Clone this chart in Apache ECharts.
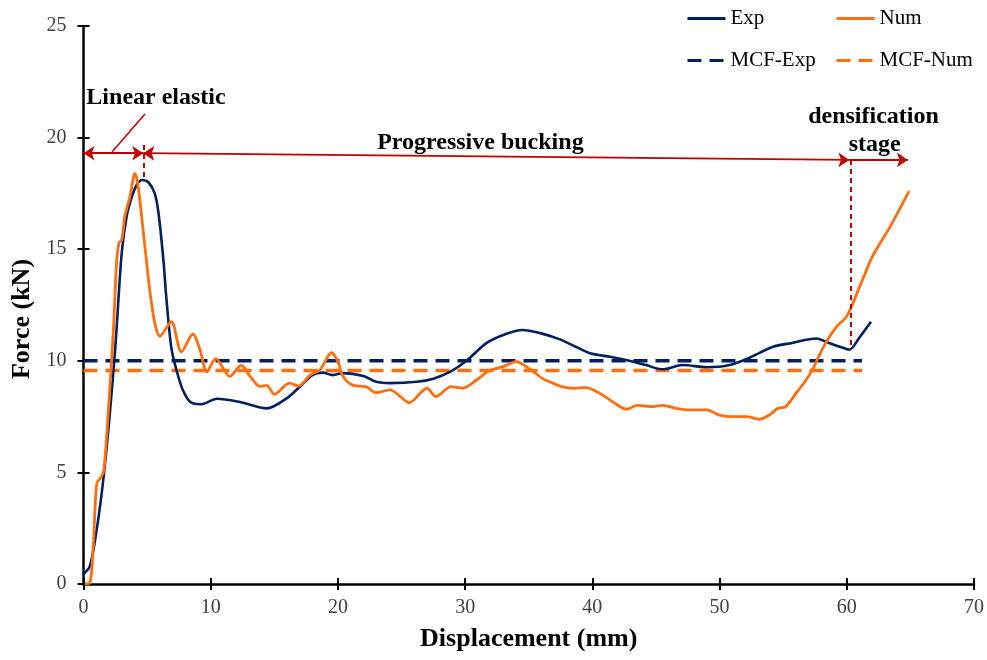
<!DOCTYPE html>
<html>
<head>
<meta charset="utf-8">
<script src="https://cdn.jsdelivr.net/npm/echarts@6/dist/echarts.min.js"></script>
<style>
  html, body { margin: 0; padding: 0; background: #fff; }
  #chart { width: 987px; height: 660px; }
</style>
</head>
<body>
<div id="chart"></div>
<script>
// Exp curve: displacement (mm), force (kN)
const expDisp = [0, 0.5, 1.0, 1.5, 2.0, 2.5, 3.0, 3.4, 3.8, 4.2, 4.6, 5.1, 5.6, 5.9, 6.3, 6.5, 6.9, 7.3, 7.8, 8.4,
  9.2, 10.5, 12.3, 14.4, 16.0, 17.0, 18.0, 18.8, 19.6, 20.4, 22.0, 23.0, 24.1, 26.2, 27.5, 28.8, 30.1, 31.7, 33.2, 34.5,
  35.9, 37.4, 38.7, 39.8, 41.4, 42.9, 44.2, 45.5, 47.1, 49.0, 50.8, 52.4, 54.2, 55.7, 57.6, 58.6, 59.5, 60.2, 61.0, 61.9];
const expForce = [0.45, 0.8, 2.3, 4.4, 7.2, 10.6, 14.8, 16.5, 17.35, 17.9, 18.1, 18.0, 17.5, 16.6, 14.4, 12.9, 10.6, 9.6, 8.7, 8.15,
  8.05, 8.3, 8.15, 7.87, 8.33, 8.84, 9.36, 9.47, 9.36, 9.45, 9.32, 9.06, 9.0, 9.06, 9.2, 9.5, 10.0, 10.8, 11.2, 11.38,
  11.24, 10.97, 10.63, 10.34, 10.18, 10.0, 9.81, 9.62, 9.81, 9.71, 9.81, 10.15, 10.63, 10.8, 11.0, 10.8, 10.62, 10.5, 11.05, 11.75];

// Num curve
const numDisp = [0.1, 0.5, 0.77, 1.04, 1.4, 1.6, 1.95, 2.35, 2.6, 2.8, 3.0, 3.26, 3.65, 4.05, 4.3, 4.83, 5.2, 5.6, 6.0, 6.9,
  7.7, 8.6, 9.15, 9.7, 10.4, 11.5, 12.4, 13.1, 13.9, 14.4, 15.0, 16.2, 16.9, 17.8, 18.6, 19.5, 20.0, 20.4, 21.2, 22.2,
  23.0, 24.1, 24.9, 25.6, 27.0, 27.7, 28.9, 29.8, 30.9, 31.9, 33.0, 34.0, 35.1, 36.1, 36.9, 37.6, 38.5, 39.5, 40.6, 41.4,
  42.7, 43.5, 44.8, 45.5, 46.6, 47.6, 49.0, 50.0, 51.0, 52.1, 53.1, 53.9, 54.6, 55.2, 56.0, 56.8, 57.3, 57.8, 58.4, 59.2,
  60.0, 61.0, 62.0, 63.4, 64.9];
const numForce = [0, 0.05, 1.7, 4.5, 4.8, 5.1, 7.7, 11.4, 14.4, 15.3, 15.4, 16.5, 17.35, 18.4, 17.8, 15.1, 13.2, 11.7, 11.1, 11.75,
  10.4, 11.2, 10.5, 9.5, 10.1, 9.3, 9.8, 9.3, 8.85, 8.9, 8.5, 9.0, 8.87, 9.36, 9.6, 10.36, 9.96, 9.3, 8.9, 8.84,
  8.57, 8.7, 8.4, 8.12, 8.77, 8.4, 8.84, 8.77, 9.14, 9.56, 9.74, 9.96, 9.62, 9.2, 9.0, 8.84, 8.77, 8.8, 8.54, 8.24,
  7.83, 8.0, 7.95, 8.0, 7.87, 7.8, 7.8, 7.57, 7.5, 7.5, 7.38, 7.57, 7.87, 7.95, 8.54, 9.14, 9.59, 10.2, 10.86, 11.53,
  12.0, 13.3, 14.66, 16.0, 17.6];

// mean crushing force levels and their extent
const mcfExp = 10;
const mcfNum = 9.56;
const mcfRange = [0, 61.2];

const xTicks = { min: 0, max: 70, interval: 10 };
const yTicks = { min: 0, max: 25, interval: 5 };

// stage annotations (data units)
const stageArrows = [
  [[0, 19.3], [4.7, 19.3], 'arrow'],
  [[4.7, 19.3], [60.2, 19.0], 'arrow'],
  [[60.2, 19.0], [64.8, 19.0], 'none']
];
const stageDividers = [
  [[4.7, 19.67], [4.7, 18.1]],
  [[60.3, 19.0], [60.3, 10.5]]
];
const leader = [[4.83, 21.06], [2.24, 19.35]];
const stageLabels = [
  [5.7, 21.8, 'Linear elastic'],
  [31.2, 19.76, 'Progressive bucking'],
  [62.1, 20.93, 'densification'],
  [62.2, 19.67, 'stage']
];

const navy = '#002060';
const orange = '#FF6F0F';
const red = '#C00000';
const serif = '"Times New Roman", "Liberation Serif", serif';

const zip = (a, b) => a.map((v, i) => [v, b[i]]);

const chart = echarts.init(document.getElementById('chart'), null, { renderer: 'canvas' });

const arrowLines = stageArrows.map(a => [
  { coord: a[0], symbol: a[2] },
  { coord: a[1], symbol: 'arrow' }
]);
const dividerLines = stageDividers.map(d => [
  { coord: d[0], symbol: 'none', lineStyle: { type: [5, 4], width: 2 } },
  { coord: d[1], symbol: 'none' }
]);
const leaderLine = [[
  { coord: leader[0], symbol: 'none', lineStyle: { width: 1.5 } },
  { coord: leader[1], symbol: 'none' }
]];

function legendAt(name, left, top, dashed) {
  return {
    data: [name], left: left, top: top, padding: 0,
    itemWidth: 38, itemHeight: 14, itemGap: 0,
    selectedMode: false,
    itemStyle: { opacity: 0 },
    lineStyle: { width: 3, type: dashed ? [14, 8] : 'solid' },
    textStyle: { fontFamily: serif, fontSize: 21, color: '#000' }
  };
}

chart.setOption({
  animation: false,
  backgroundColor: '#fff',
  grid: { left: 83.5, right: 12.4, top: 26, bottom: 76 },
  legend: [
    legendAt('Exp', 686, 8, false),
    legendAt('Num', 835, 8, false),
    legendAt('MCF-Exp', 686, 50, true),
    legendAt('MCF-Num', 835, 50, true)
  ],
  xAxis: [{
    type: 'value', min: xTicks.min, max: xTicks.max, interval: xTicks.interval,
    name: 'Displacement (mm)', nameLocation: 'middle', nameGap: 42,
    nameTextStyle: { fontFamily: serif, fontSize: 26, fontWeight: 'bold', color: '#000' },
    axisLine: { show: true, lineStyle: { color: '#000', width: 2.5 } },
    axisTick: { show: true, length: 6, lineStyle: { color: '#000', width: 2 } },
    axisLabel: { fontFamily: serif, fontSize: 20, color: '#404040', margin: 14 },
    splitLine: { show: false }
  }, {
    type: 'value', position: 'bottom', min: xTicks.min, max: xTicks.max, interval: xTicks.interval,
    axisLine: { show: false },
    axisTick: { show: true, inside: true, length: 6, lineStyle: { color: '#000', width: 2 } },
    axisLabel: { show: false }, splitLine: { show: false }
  }],
  yAxis: [{
    type: 'value', min: yTicks.min, max: yTicks.max, interval: yTicks.interval,
    name: 'Force (kN)', nameLocation: 'middle', nameGap: 46,
    nameTextStyle: { fontFamily: serif, fontSize: 26, fontWeight: 'bold', color: '#000', padding: [0, 28, 0, 0] },
    axisLine: { show: true, lineStyle: { color: '#000', width: 2.5 } },
    axisTick: { show: true, length: 6, lineStyle: { color: '#000', width: 2 } },
    axisLabel: { fontFamily: serif, fontSize: 20, color: '#404040', margin: 17 },
    splitLine: { show: false }
  }, {
    type: 'value', position: 'left', min: yTicks.min, max: yTicks.max, interval: yTicks.interval,
    axisLine: { show: false },
    axisTick: { show: true, inside: true, length: 6, lineStyle: { color: '#000', width: 2 } },
    axisLabel: { show: false }, splitLine: { show: false }
  }],
  series: [
    {
      name: 'Exp', type: 'line', data: zip(expDisp, expForce),
      showSymbol: false, symbol: 'none', smooth: 0.3,
      lineStyle: { color: navy, width: 2.6 }, itemStyle: { color: navy }, z: 3
    },
    {
      name: 'Num', type: 'line', data: zip(numDisp, numForce),
      showSymbol: false, symbol: 'none', smooth: 0.3,
      lineStyle: { color: orange, width: 2.8 }, itemStyle: { color: orange }, z: 4
    },
    {
      name: 'MCF-Exp', type: 'line', data: mcfRange.map(x => [x, mcfExp]),
      showSymbol: false, symbol: 'none',
      lineStyle: { color: navy, width: 3.5, type: [14, 8] }, itemStyle: { color: navy }, z: 2
    },
    {
      name: 'MCF-Num', type: 'line', data: mcfRange.map(x => [x, mcfNum]),
      showSymbol: false, symbol: 'none',
      lineStyle: { color: orange, width: 3.5, type: [14, 8] }, itemStyle: { color: orange }, z: 2
    },
    {
      name: 'notes', type: 'scatter', data: stageLabels,
      symbolSize: 1, itemStyle: { color: 'rgba(0,0,0,0)' }, silent: true, z: 6,
      label: {
        show: true, position: 'inside', formatter: p => p.data[2],
        fontFamily: serif, fontSize: 24, fontWeight: 'bold', color: '#000',
        textBorderWidth: 0, opacity: 1
      },
      markLine: {
        silent: true, animation: false, symbolSize: 11,
        label: { show: false },
        lineStyle: { color: red, width: 1.8, type: 'solid' },
        data: arrowLines.concat(dividerLines, leaderLine)
      }
    }
  ]
});
</script>
</body>
</html>
